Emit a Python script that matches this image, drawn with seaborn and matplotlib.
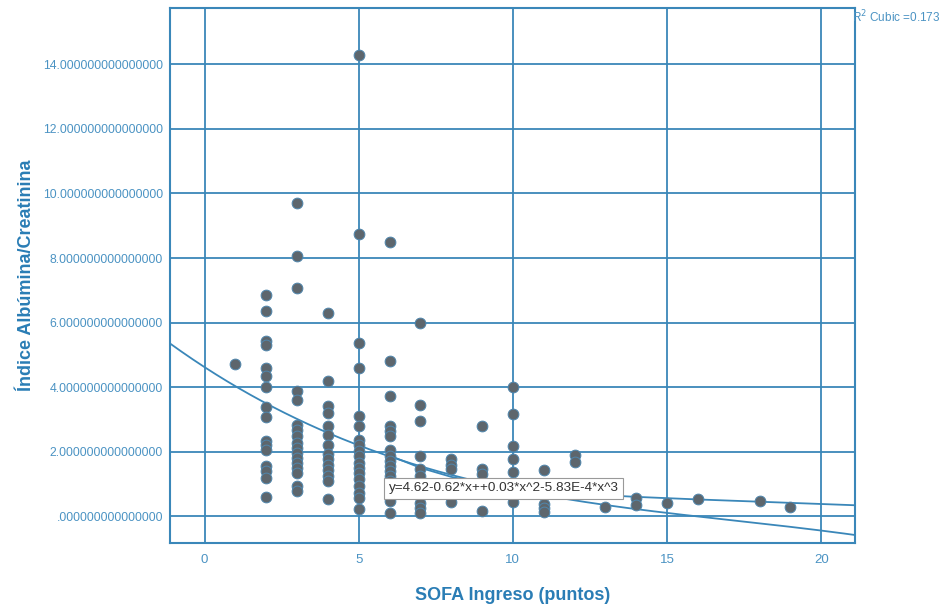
import numpy as np
import pandas as pd
import seaborn as sns
import matplotlib.pyplot as plt

# SOFA score per column and the ratio values
sofa_1 = [4.73]
sofa_2 = [6.86, 6.36, 5.44, 5.32, 4.6, 4.33, 3.99, 3.37, 3.09, 2.32, 2.2, 2.06, 1.55, 1.39, 1.2, 0.6]
sofa_3 = [9.7, 8.05, 7.07, 3.87, 3.61, 2.84, 2.68, 2.48, 2.27, 2.12, 1.96, 1.81, 1.65, 1.5, 1.34, 0.93, 0.77]
sofa_4 = [6.3, 4.18, 3.43, 3.2, 2.81, 2.53, 2.2, 1.94, 1.76, 1.58, 1.42, 1.24, 1.08, 0.52]
sofa_5 = [14.3, 8.73, 5.37, 4.6, 3.1, 2.81, 2.37, 2.22, 2.01, 1.86, 1.65, 1.5, 1.34, 1.14, 0.93, 0.72, 0.57, 0.21]
sofa_6 = [8.5, 4.82, 3.74, 2.81, 2.65, 2.48, 2.04, 1.86, 1.7, 1.55, 1.39, 1.24, 1.08, 0.67, 0.46, 0.1]
sofa_7 = [5.99, 3.44, 2.94, 1.86, 1.45, 1.24, 0.41, 0.26, 0.1]
sofa_8 = [1.76, 1.6, 1.45, 0.45]
sofa_9 = [2.8, 1.45, 1.3, 0.15]
sofa_10 = [4.0, 3.17, 2.19, 1.76, 1.36, 0.43]
sofa_11 = [1.42, 0.39, 0.26, 0.14]
sofa_12 = [1.91, 1.68]
sofa_13 = [0.28]
sofa_14 = [0.55, 0.34]
sofa_15 = [0.41]
sofa_16 = [0.52]
sofa_18 = [0.48]
sofa_19 = [0.28]

columns = {1: sofa_1, 2: sofa_2, 3: sofa_3, 4: sofa_4, 5: sofa_5, 6: sofa_6, 7: sofa_7,
           8: sofa_8, 9: sofa_9, 10: sofa_10, 11: sofa_11, 12: sofa_12, 13: sofa_13,
           14: sofa_14, 15: sofa_15, 16: sofa_16, 18: sofa_18, 19: sofa_19}

# cubic fit as printed on the chart (highest power first)
cubic_coefs = [-5.83e-4, 0.03, -0.62, 4.62]
r2_cubic = 0.173

# second (flatter) curve
curve2_x = [6, 7, 8, 9, 10, 12, 14, 16, 18, 21.1]
curve2_y = [1.88, 1.5, 1.22, 1.02, 0.88, 0.7, 0.6, 0.52, 0.45, 0.34]

x_ticks = [0, 5, 10, 15, 20]
y_ticks = [0, 2, 4, 6, 8, 10, 12, 14]

df = pd.DataFrame([(k, v) for k, vals in columns.items() for v in vals], columns=["sofa", "ratio"])

blue = "#3a87b9"
text_blue = "#4b93c3"
label_blue = "#2a7db5"

sns.set_theme(style="white")
plt.rcParams["font.family"] = ["Liberation Sans", "DejaVu Sans"]

fig = plt.figure(figsize=(9.47, 6.07), dpi=100)
ax = fig.add_axes([0.1795, 0.1054, 0.7235, 0.8816])

xlim = (-1.12, 21.1)
ylim = (-0.83, 15.75)

sns.scatterplot(data=df, x="sofa", y="ratio", ax=ax, s=60, color="#5d666d",
                edgecolor="#4f86ad", linewidth=0.7, zorder=3)

xs = np.linspace(xlim[0], xlim[1], 300)
sns.lineplot(x=xs, y=np.polyval(cubic_coefs, xs), ax=ax, color=blue, linewidth=1.3, zorder=2)
sns.lineplot(x=curve2_x, y=curve2_y, ax=ax, color=blue, linewidth=1.3, zorder=2)

ax.set_xlim(*xlim)
ax.set_ylim(*ylim)
ax.set_xticks(x_ticks)
ax.set_yticks(y_ticks)
ax.set_yticklabels([("%.15f" % v).lstrip("0") if v == 0 else "%.15f" % v for v in y_ticks])
ax.grid(True, color=blue, linewidth=1.3)
ax.set_axisbelow(True)
for sp in ax.spines.values():
    sp.set_color(blue)
    sp.set_linewidth(1.5)
ax.tick_params(axis="y", length=0, colors=text_blue, labelsize=8.8, pad=5)
ax.tick_params(axis="x", length=0, colors=text_blue, labelsize=9.5, pad=8)

ax.set_xlabel("SOFA Ingreso (puntos)", color=label_blue, fontsize=13, fontweight="bold", labelpad=15)
ax.set_ylabel("Índice Albúmina/Creatinina", color=label_blue, fontsize=13, fontweight="bold", labelpad=6)

ax.text(5.97, 0.86, "y=4.62-0.62*x++0.03*x^2-5.83E-4*x^3", fontsize=9.7, color="#333333",
        va="center", ha="left", zorder=5,
        bbox=dict(boxstyle="square,pad=0.35", facecolor="white", edgecolor="#999999", linewidth=0.8))

fig.text(0.9, 0.972, "R$^2$ Cubic =%.3f" % r2_cubic, color=text_blue, fontsize=8.5, ha="left", va="center")

plt.savefig("out.png", dpi=100)
